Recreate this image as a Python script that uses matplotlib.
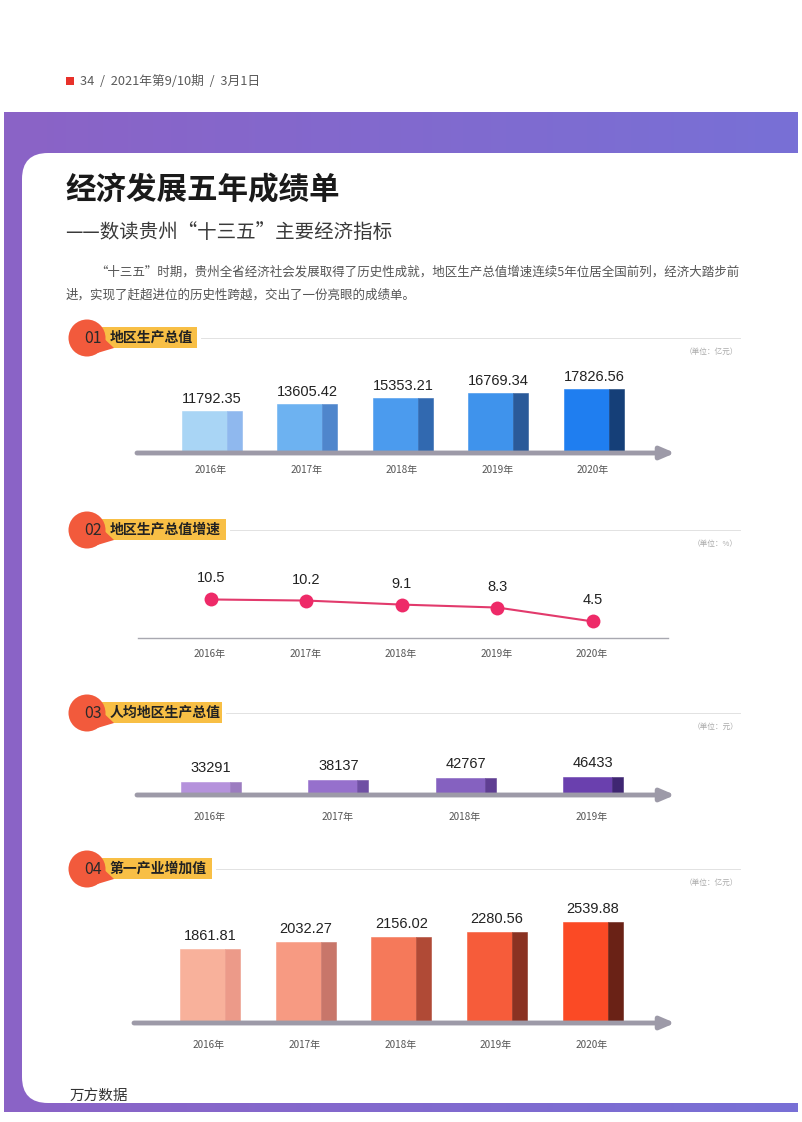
import numpy as np
import matplotlib.pyplot as plt
from matplotlib.colors import LinearSegmentedColormap
from matplotlib.patches import Circle, Rectangle, FancyBboxPatch, Polygon

plt.rcParams['font.family'] = ['Noto Sans CJK SC', 'DejaVu Sans']
NUM_FONT = ['Liberation Sans Narrow', 'Liberation Sans', 'DejaVu Sans']

W, H = 803, 1122

# data
years5 = ['2016年', '2017年', '2018年', '2019年', '2020年']
years4 = ['2016年', '2017年', '2018年', '2019年']
gdp = [11792.35, 13605.42, 15353.21, 16769.34, 17826.56]
gdp_growth = [10.5, 10.2, 9.1, 8.3, 4.5]
gdp_per_capita = [33291, 38137, 42767, 46433]
primary_industry = [1861.81, 2032.27, 2156.02, 2280.56, 2539.88]

# styles
gdp_front = ['#a9d5f5', '#6db2f1', '#4b9bee', '#3f93ec', '#1f7ef0']
gdp_side = ['#8fb8ee', '#4f86cc', '#3169b0', '#2a5a99', '#153f78']
pc_front = ['#b592dc', '#9670cc', '#8561c0', '#6a40ae']
pc_side = ['#9c7cc0', '#7050a4', '#5f3e92', '#3f2672']
pri_front = ['#f8b19b', '#f79a82', '#f5795a', '#f65c3a', '#fb4a25']
pri_side = ['#ec9a89', '#c8766a', '#b04a36', '#8a3222', '#6a2216']

fig = plt.figure(figsize=(W / 100, H / 100), dpi=100)
bg = fig.add_axes([0, 0, 1, 1])
bg.axis('off')

# purple frame and white panel
cmap = LinearSegmentedColormap.from_list('frame', ['#8b63c6', '#7870d6'])
bg.imshow(np.linspace(0, 1, 256).reshape(1, -1), extent=[4, 798, 1112, 112],
          aspect='auto', cmap=cmap, zorder=0)
bg.set_xlim(0, W)
bg.set_ylim(H, 0)
bg.add_patch(FancyBboxPatch((22, 153), 900, 950,
                            boxstyle='round,pad=0,rounding_size=26',
                            fc='white', ec='none', zorder=1))

# page header
bg.add_patch(Rectangle((66, 77), 8, 8, fc='#e8312a', ec='none'))
bg.text(80, 81, '34  /  2021年第9/10期  /  3月1日', fontsize=9.2,
        color='#5a5a5a', va='center')

bg.text(65, 190, '经济发展五年成绩单', fontsize=22, weight='heavy',
        color='#1a1a1a', va='center', zorder=3)
bg.text(65, 232, '——数读贵州“十三五”主要经济指标', fontsize=14,
        weight='light', color='#3a3a3a', va='center', zorder=3)
bg.text(95, 272, '“十三五”时期，贵州全省经济社会发展取得了历史性成就，地区生产总值增速连续5年位居全国前列，经济大踏步前',
        fontsize=9.0, color='#555555', va='center', zorder=3)
bg.text(66, 295, '进，实现了赶超进位的历史性跨越，交出了一份亮眼的成绩单。',
        fontsize=9.0, color='#555555', va='center', zorder=3)
bg.text(70, 1096, '万方数据', fontsize=10.5, color='#333333', va='center', zorder=3)


def header(yc, num, title, x_end, unit):
    bg.add_patch(Rectangle((100, yc - 11), x_end - 100, 21, fc='#f8bf45',
                           ec='none', zorder=3))
    bg.add_patch(Polygon([(97, yc - 6), (114, yc + 10), (94, yc + 16)],
                         fc='#f25a3c', ec='none', zorder=4))
    bg.add_patch(Circle((87, yc), 18.5, fc='#f25a3c', ec='none', zorder=4))
    bg.text(93, yc, num, fontsize=11.5, color='#2a2a2a', ha='center',
            va='center', zorder=5)
    bg.text(110, yc, title, fontsize=10, weight='bold', color='#222222',
            va='center', zorder=5)
    bg.plot([x_end + 4, 740], [yc, yc], color='#e2e2e2', lw=0.7, zorder=3)
    bg.text(738, yc + 14, unit, fontsize=5.5, color='#aaaaaa', ha='right',
            va='center', zorder=3)


header(338, '01', '地区生产总值', 197, '（单位：亿元）')
header(530, '02', '地区生产总值增速', 226, '（单位：%）')
header(713, '03', '人均地区生产总值', 222, '（单位：元）')
header(869, '04', '第一产业增加值', 212, '（单位：亿元）')


def chart(x_first, dx, n, y_base, ppu, top=130):
    left = x_first - 1.5 * dx
    right = x_first + (n + 0.5) * dx
    ax = fig.add_axes([left / W, (H - y_base) / H, (right - left) / W, top / H])
    ax.set_xlim(-1.5, n + 0.5)
    ax.set_ylim(0, top / ppu)
    ax.axis('off')
    ax.patch.set_alpha(0)
    return ax, (lambda px: (px - x_first) / dx)


def arrow(ax, px, x0, x1):
    ax.annotate('', xy=(px(x1), 0), xytext=(px(x0), 0),
                arrowprops=dict(arrowstyle='-|>,head_length=0.7,head_width=0.3',
                                lw=3.5, color='#9d9aa8', shrinkA=0, shrinkB=0,
                                mutation_scale=12),
                annotation_clip=False, zorder=3)


def bars3d(ax, vals, fronts, sides, dx, side_px=15):
    x = np.arange(len(vals))
    tw = 60 / dx
    sw = side_px / dx
    fw = tw - sw
    ax.bar(x - tw / 2 + fw / 2, vals, width=fw, color=fronts, ec=fronts,
           lw=0.4, zorder=2)
    ax.bar(x + tw / 2 - sw / 2, vals, width=sw, color=sides, ec=sides,
           lw=0.4, zorder=2)


def labels(ax, vals, texts, years, val_off, year_off):
    for i, (v, t) in enumerate(zip(vals, texts)):
        ax.annotate(t, (i, v), xytext=(0, val_off), textcoords='offset pixels',
                    ha='center', va='center', fontsize=10.5, family=NUM_FONT,
                    color='#222222', annotation_clip=False)
    for i, y in enumerate(years):
        ax.annotate(y, (i, 0), xytext=(-1, year_off), textcoords='offset pixels',
                    ha='center', va='center', fontsize=7.2, color='#555555',
                    annotation_clip=False)


# 01 GDP
ax1, px1 = chart(212, 95.5, 5, 453, 0.0036)
bars3d(ax1, gdp, gdp_front, gdp_side, 95.5)
arrow(ax1, px1, 137, 675)
labels(ax1, gdp, [f'{v:.2f}' for v in gdp], years5, 12, -17)

# 02 GDP growth
ax2, px2 = chart(211, 95.5, 5, 638, 3.67, top=100)
ax2.plot([px2(138), px2(668)], [0, 0], color='#a8a8b0', lw=1.0, clip_on=False)
ax2.plot(range(5), gdp_growth, color='#e23a6c', lw=1.5, marker='o', ms=10,
         mfc='#ee2a68', mec='none', zorder=3)
labels(ax2, gdp_growth, [f'{v}' for v in gdp_growth], years5, 21, -16)

# 03 GDP per capita
ax3, px3 = chart(211, 127.3, 4, 795, 0.00039, top=80)
bars3d(ax3, gdp_per_capita, pc_front, pc_side, 127.3, side_px=11)
arrow(ax3, px3, 137, 675)
labels(ax3, gdp_per_capita, [f'{v:d}' for v in gdp_per_capita], years4, 14, -22)

# 04 primary industry
ax4, px4 = chart(210, 95.7, 5, 1023, 0.0397)
bars3d(ax4, primary_industry, pri_front, pri_side, 95.7)
arrow(ax4, px4, 134, 675)
labels(ax4, primary_industry, [f'{v:.2f}' for v in primary_industry], years5, 13, -22)

fig.savefig('out.png', dpi=100)
